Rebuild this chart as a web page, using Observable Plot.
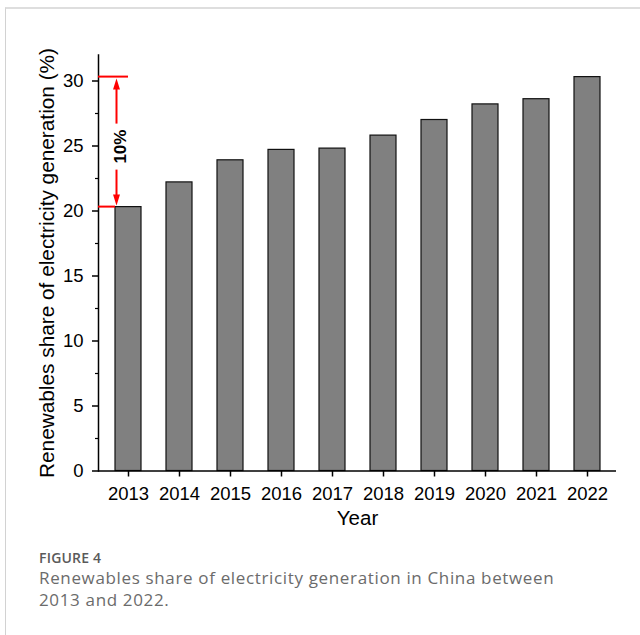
<!DOCTYPE html>
<html>
<head>
<meta charset="utf-8">
<script src="https://cdn.jsdelivr.net/npm/d3@7"></script>
<script src="https://cdn.jsdelivr.net/npm/@observablehq/plot@0.6"></script>
<style>
  html, body { margin: 0; padding: 0; overflow: hidden; background: #fff; width: 640px; height: 635px; }
  #border { position: absolute; left: 5px; top: 7px; width: 700px; height: 700px;
            border-top: 2px solid #dedede; border-left: 1px solid #d2d2d2; }
  #chart { position: absolute; left: 0; top: 0; }
  .cap { position: absolute; left: 39px; font-family: "Open Sans", sans-serif; color: #666; white-space: nowrap; }
  #fig { top: 548.5px; font-size: 14px; font-weight: 600; color: #5a5a5a; line-height: 17.5px; letter-spacing: 0.2px; }
  #caption { top: 566.5px; font-size: 17px; line-height: 22.5px; color: #6b6b6b; letter-spacing: 0.65px; }
</style>
</head>
<body>
<div id="border"></div>
<div id="chart"></div>
<div id="fig" class="cap">FIGURE 4</div>
<div id="caption" class="cap">Renewables share of electricity generation in China between<br>2013 and 2022.</div>
<script>
// Renewables share of electricity generation in China (%)
const years = ["2013", "2014", "2015", "2016", "2017", "2018", "2019", "2020", "2021", "2022"];
const shares = [20.3, 22.2, 23.9, 24.7, 24.8, 25.8, 27.0, 28.2, 28.6, 30.3];

const yMajorTicks = [0, 5, 10, 15, 20, 25, 30];
const yMinorTicks = [2.5, 7.5, 12.5, 17.5, 22.5, 27.5];
const yDomain = [0, 32];

const rows = years.map((year, i) => ({year, share: shares[i]}));

// Bracket showing the rise between the first and the last year
const spanFrom = shares[0];
const spanTo = shares[shares.length - 1];
const spanLabel = `${Math.round(spanTo - spanFrom)}%`;

function drawSpan(index, scales, values, dims) {
  const {x, y} = scales;
  const band = x.bandwidth ? x.bandwidth() : 0;
  const left = dims.marginLeft;
  const x0 = x(years[0]);
  const yTop = y(spanTo);
  const yBot = y(spanFrom);
  const ax = x0 + 1.5;
  const mid = (yTop + yBot) / 2 + 5;
  const gap = 23;
  const head = 11, half = 3.5;

  const g = d3.create("svg:g");
  const red = "#ff0000";
  // horizontal markers
  g.append("line").attr("x1", left).attr("x2", x0 + band / 2)
    .attr("y1", yTop).attr("y2", yTop).attr("stroke", red).attr("stroke-width", 2);
  g.append("line").attr("x1", left).attr("x2", x0)
    .attr("y1", yBot).attr("y2", yBot).attr("stroke", red).attr("stroke-width", 2);
  // arrow shafts
  g.append("line").attr("x1", ax).attr("x2", ax)
    .attr("y1", yTop + 2 + head - 1).attr("y2", mid - gap).attr("stroke", red).attr("stroke-width", 2);
  g.append("line").attr("x1", ax).attr("x2", ax)
    .attr("y1", mid + gap).attr("y2", yBot - 1 - head + 1).attr("stroke", red).attr("stroke-width", 2);
  // arrow heads
  const tTip = yTop + 2, bTip = yBot - 1;
  g.append("path").attr("fill", red)
    .attr("d", `M${ax},${tTip}L${ax - half},${tTip + head}L${ax + half},${tTip + head}Z`);
  g.append("path").attr("fill", red)
    .attr("d", `M${ax},${bTip}L${ax - half},${bTip - head}L${ax + half},${bTip - head}Z`);
  // label
  g.append("text")
    .attr("transform", `translate(${ax + 4},${mid}) rotate(-90)`)
    .attr("text-anchor", "middle")
    .attr("dy", "0.35em")
    .attr("font-size", 17)
    .attr("font-weight", "bold")
    .attr("fill", "#000")
    .text(spanLabel);
  return g.node();
}

const chart = Plot.plot({
  width: 640,
  height: 540,
  marginLeft: 98,
  marginRight: 24,
  marginTop: 54.5,
  marginBottom: 69.5,
  style: {
    fontFamily: '"Liberation Sans", Arial, sans-serif',
    color: "#000",
    background: "transparent",
    overflow: "visible"
  },
  x: {type: "band", domain: years, paddingInner: 0.5, paddingOuter: 0.25, label: null},
  y: {domain: yDomain, label: null},
  marks: [
    Plot.barY(rows, {x: "year", y: "share", fill: "#808080", stroke: "#111", strokeWidth: 1.2}),
    Plot.ruleY([0], {stroke: "#000", strokeWidth: 1.5}),
    Plot.frame({anchor: "left", stroke: "#000", strokeWidth: 1.5}),
    Plot.axisX({tickSize: 6, tickPadding: 10, fontSize: 18.5, strokeWidth: 1.5, label: null}),
    Plot.axisY(yMajorTicks, {tickSize: 6, tickPadding: 9, fontSize: 18.5, strokeWidth: 1.5, label: null}),
    Plot.axisY(yMinorTicks, {tickSize: 3, tickFormat: () => "", strokeWidth: 1.2, label: null}),
    Plot.text(["Year"], {frameAnchor: "bottom", lineAnchor: "top", dy: 39, fontSize: 20.5}),
    Plot.text(["Renewables share of electricity generation (%)"], {
      frameAnchor: "left", rotate: -90, dx: -51, fontSize: 20.8, lineAnchor: "middle", textAnchor: "middle"
    }),
    Plot.ruleY([spanTo], {render: drawSpan})
  ]
});

document.getElementById("chart").append(chart);
</script>
</body>
</html>
